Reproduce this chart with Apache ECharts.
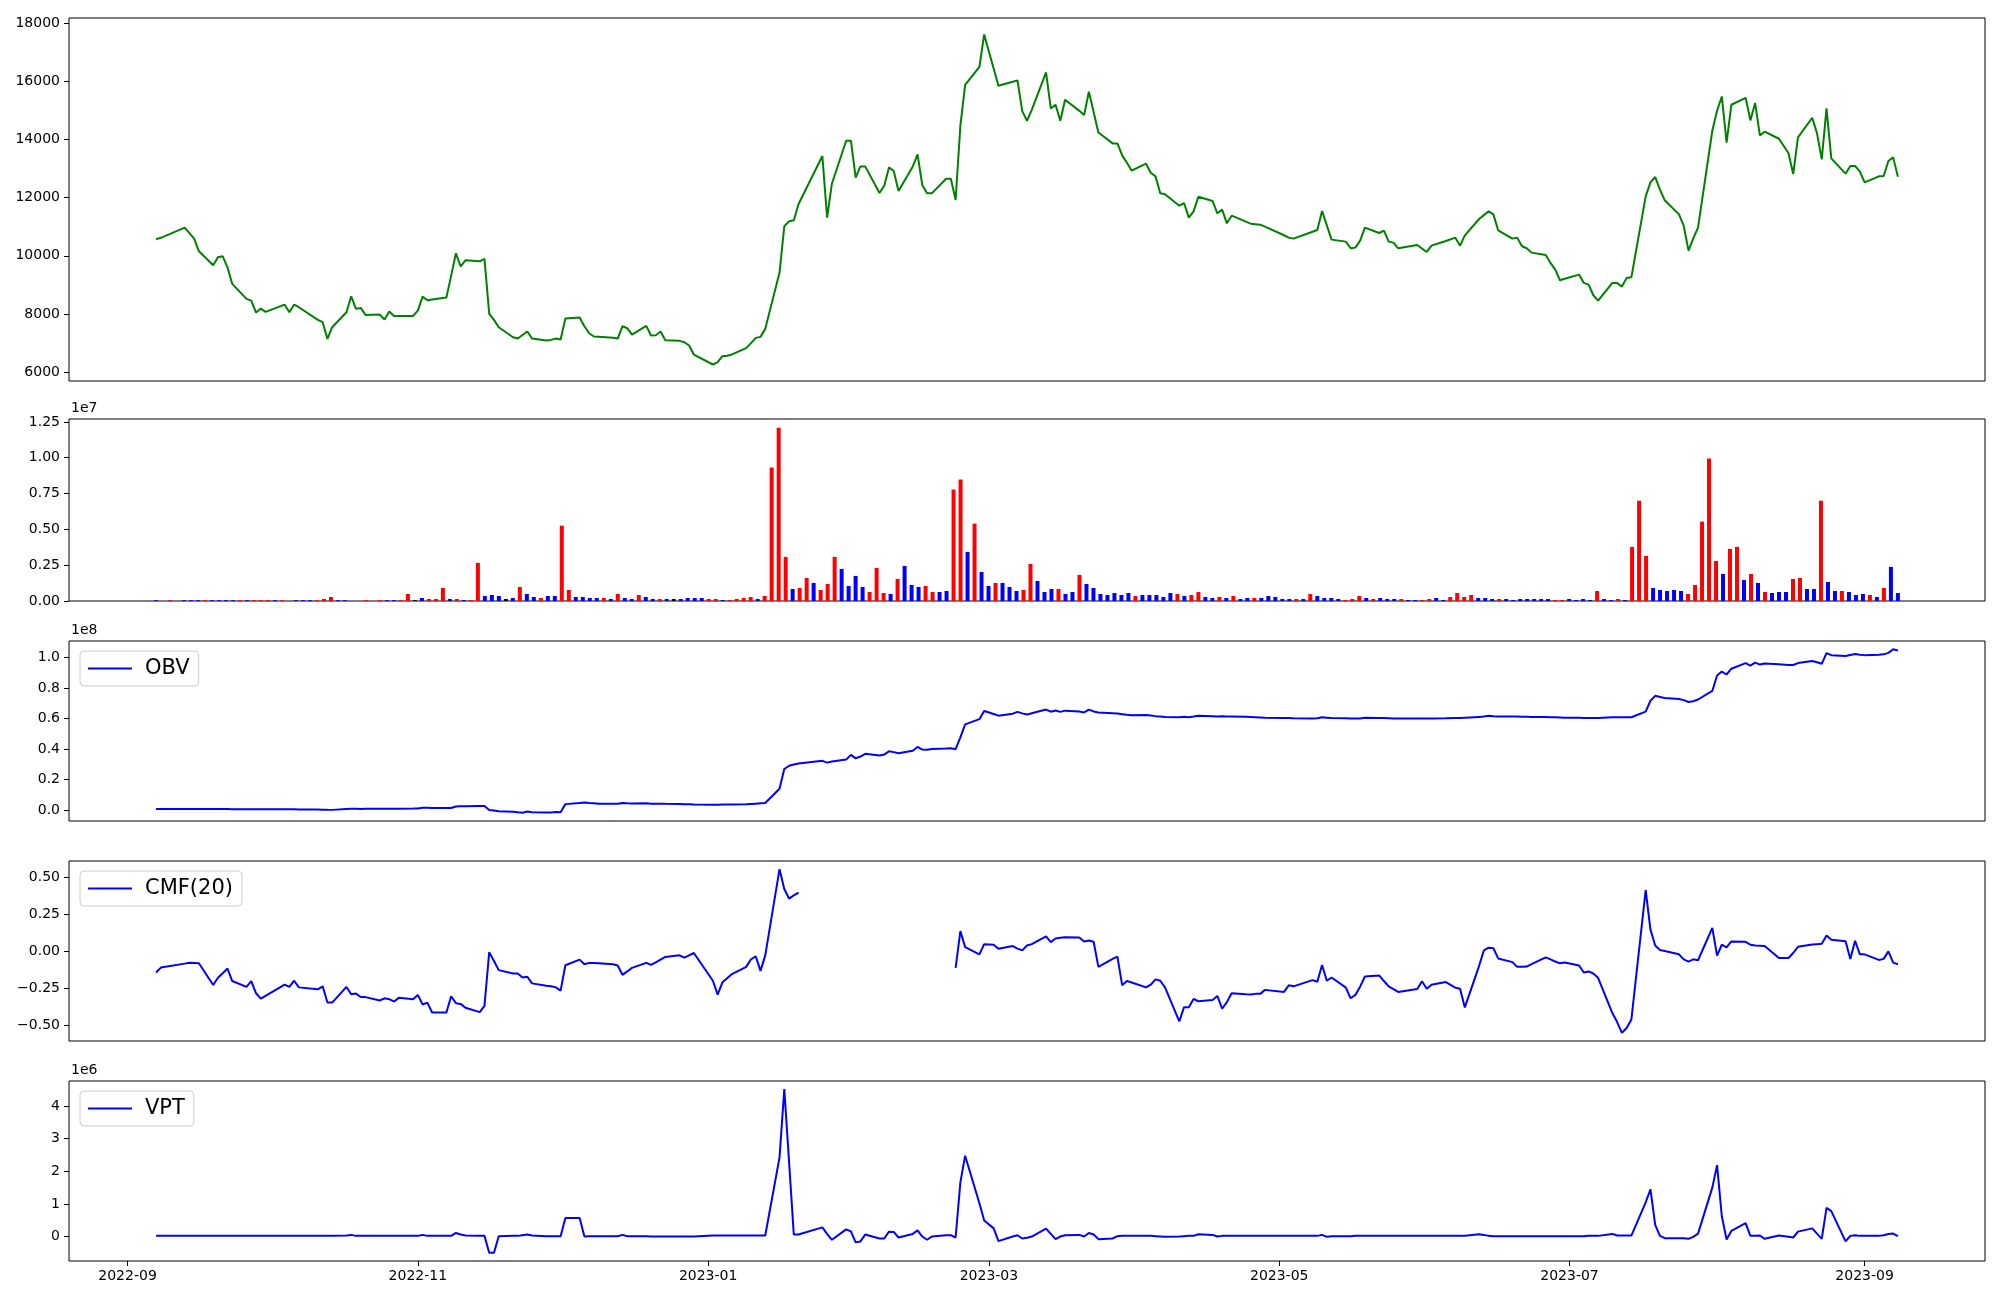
<!DOCTYPE html>
<html><head><meta charset="utf-8">
<script src="https://cdn.jsdelivr.net/npm/echarts@6/dist/echarts.min.js"></script>
<style>html,body{margin:0;padding:0;background:#fff}#c{width:2000px;height:1300px}</style>
</head><body><div id="c"></div>
<script>
const dates = [
'2022-09-07','2022-09-08','2022-09-13','2022-09-14','2022-09-15','2022-09-16','2022-09-19','2022-09-20','2022-09-21','2022-09-22','2022-09-23','2022-09-26','2022-09-27','2022-09-28','2022-09-29','2022-09-30',
'2022-10-04','2022-10-05','2022-10-06','2022-10-07','2022-10-11','2022-10-12','2022-10-13','2022-10-14','2022-10-17','2022-10-18','2022-10-19','2022-10-20','2022-10-21','2022-10-24','2022-10-25','2022-10-26','2022-10-27','2022-10-28','2022-10-31',
'2022-11-01','2022-11-02','2022-11-03','2022-11-04','2022-11-07','2022-11-08','2022-11-09','2022-11-10','2022-11-11','2022-11-14','2022-11-15','2022-11-16','2022-11-17','2022-11-18','2022-11-21','2022-11-22','2022-11-23','2022-11-24','2022-11-25','2022-11-28','2022-11-29','2022-11-30',
'2022-12-01','2022-12-02','2022-12-05','2022-12-06','2022-12-07','2022-12-08','2022-12-09','2022-12-12','2022-12-13','2022-12-14','2022-12-15','2022-12-16','2022-12-19','2022-12-20','2022-12-21','2022-12-22','2022-12-23','2022-12-26','2022-12-27','2022-12-28','2022-12-29',
'2023-01-02','2023-01-03','2023-01-04','2023-01-05','2023-01-06','2023-01-09','2023-01-10','2023-01-11','2023-01-12','2023-01-13','2023-01-16','2023-01-17','2023-01-18','2023-01-19','2023-01-20','2023-01-25','2023-01-26','2023-01-27','2023-01-30','2023-01-31',
'2023-02-01','2023-02-02','2023-02-03','2023-02-06','2023-02-07','2023-02-08','2023-02-09','2023-02-10','2023-02-13','2023-02-14','2023-02-15','2023-02-16','2023-02-17','2023-02-20','2023-02-21','2023-02-22','2023-02-23','2023-02-24','2023-02-27','2023-02-28',
'2023-03-02','2023-03-03','2023-03-06','2023-03-07','2023-03-08','2023-03-09','2023-03-10','2023-03-13','2023-03-14','2023-03-15','2023-03-16','2023-03-17','2023-03-20','2023-03-21','2023-03-22','2023-03-23','2023-03-24','2023-03-27','2023-03-28','2023-03-29','2023-03-30','2023-03-31',
'2023-04-03','2023-04-04','2023-04-05','2023-04-06','2023-04-07','2023-04-10','2023-04-11','2023-04-12','2023-04-13','2023-04-14','2023-04-17','2023-04-18','2023-04-19','2023-04-20','2023-04-21','2023-04-24','2023-04-25','2023-04-26','2023-04-27','2023-04-28',
'2023-05-02','2023-05-03','2023-05-04','2023-05-08','2023-05-09','2023-05-10','2023-05-11','2023-05-12','2023-05-15','2023-05-16','2023-05-17','2023-05-18','2023-05-19','2023-05-22','2023-05-23','2023-05-24','2023-05-25','2023-05-26','2023-05-30','2023-05-31',
'2023-06-01','2023-06-02','2023-06-05','2023-06-07','2023-06-08','2023-06-09','2023-06-12','2023-06-13','2023-06-14','2023-06-15','2023-06-16','2023-06-19','2023-06-20','2023-06-21','2023-06-22','2023-06-23','2023-06-26','2023-06-27','2023-06-28','2023-06-29','2023-06-30',
'2023-07-03','2023-07-04','2023-07-05','2023-07-06','2023-07-07','2023-07-10','2023-07-11','2023-07-12','2023-07-13','2023-07-14','2023-07-17','2023-07-18','2023-07-19','2023-07-20','2023-07-21','2023-07-24','2023-07-25','2023-07-26','2023-07-27','2023-07-28','2023-07-31',
'2023-08-01','2023-08-02','2023-08-03','2023-08-04','2023-08-07','2023-08-08','2023-08-09','2023-08-10','2023-08-11','2023-08-14','2023-08-16','2023-08-17','2023-08-18','2023-08-21','2023-08-22','2023-08-23','2023-08-24','2023-08-25','2023-08-28','2023-08-29','2023-08-30','2023-08-31',
'2023-09-01','2023-09-04','2023-09-05','2023-09-06','2023-09-07','2023-09-08'
];
const close = [
10570,10620,10970,10780,10590,10157,9676,9950,9985,9607,
9035,8519,8462,8050,8187,8073,8325,8061,8325,8233,
7800,7718,7145,7546,8061,8611,8176,8210,7970,7980,
7810,8084,7935,7935,7935,8118,8599,8473,8496,8565,
9320,10088,9641,9847,9813,9893,8004,7798,7546,7202,
7157,7277,7397,7157,7088,7110,7157,7122,7843,7878,
7580,7340,7225,7215,7180,7157,7580,7512,7294,7592,
7260,7271,7397,7100,7077,7031,6916,6607,6264,6344,
6550,6562,6610,6825,7000,7180,7214,7489,9424,11016,
11187,11222,11783,13431,11313,12481,13958,13958,12687,13076,
13076,12160,12412,13042,12916,12229,13076,13488,12435,12149,
12149,12653,12653,11920,14474,15882,16500,17611,16436,15848,
15985,16031,14977,14645,15020,16305,15069,15195,14645,15367,
14985,14840,15642,14943,14244,13867,13867,13454,13200,12927,
13168,12859,12733,12149,12115,11725,11817,11313,11531,12034,
11886,11462,11588,11119,11382,11175,11107,11090,11073,11006,
10708,10626,10592,10830,10890,11543,11050,10558,10489,10260,
10283,10523,10970,10786,10867,10489,10454,10260,10374,10250,
10134,10351,10510,10626,10351,10706,11267,11400,11531,11427,
10878,10592,10626,10329,10260,10111,10031,9756,9527,9160,
9210,9355,9069,9012,8645,8462,9069,9069,8943,9241,
9263,12046,12527,12710,12275,11909,11427,11027,10180,10603,
10970,14302,14989,15481,13889,15195,15435,14657,15252,14142,
14268,14027,13535,12813,14073,14749,14211,13317,15069,13352,
12825,13088,13088,12905,12527,12733,12744,13260,13386,12721
];
// volume in millions of shares
const volumeMillions = [
0.06,0,0.06,0,0.06,0.06,0.06,0.06,0.06,0.06,
0.06,0.06,0.06,0.06,0.06,0.06,0.06,0.06,0.06,0,
0.06,0.06,0.06,0.06,0.14,0.28,0.06,0.06,0,0,
0.06,0,0.06,0.06,0.06,0.06,0.49,0.06,0.21,0.14,
0.14,0.91,0.14,0.14,0.07,0.07,2.66,0.35,0.42,0.35,
0.14,0.21,0.98,0.49,0.28,0.21,0.35,0.35,5.26,0.77,
0.28,0.28,0.21,0.21,0.21,0.14,0.49,0.21,0.14,0.42,
0.28,0.14,0.14,0.14,0.14,0.14,0.21,0.21,0.21,0.14,
0.14,0.07,0.07,0.14,0.21,0.28,0.14,0.35,9.32,12.1,
3.08,0.84,0.91,1.61,1.26,0.77,1.19,3.08,2.24,1.05,
1.75,0.98,0.63,2.31,0.56,0.49,1.54,2.45,1.12,0.98,
1.05,0.63,0.63,0.70,7.78,8.48,3.43,5.40,2.03,1.05,
1.26,1.26,0.98,0.70,0.77,2.59,1.40,0.63,0.84,0.84,
0.49,0.63,1.82,1.19,0.91,0.49,0.42,0.56,0.42,0.56,
0.35,0.42,0.42,0.42,0.28,0.56,0.49,0.35,0.42,0.63,
0.28,0.21,0.28,0.21,0.35,0.14,0.21,0.21,0.21,0.35,
0.28,0.14,0.14,0.14,0.14,0.49,0.35,0.21,0.21,0.14,
0.07,0.14,0.35,0.21,0.14,0.21,0.14,0.14,0.14,0.07,
0.07,0.07,0.14,0.21,0.07,0.28,0.56,0.28,0.42,0.21,
0.21,0.14,0.14,0.14,0.07,0.14,0.14,0.14,0.14,0.14,
0.07,0.07,0.14,0.07,0.14,0.07,0.70,0.14,0.07,0.14,
0.07,3.78,7.00,3.15,0.91,0.77,0.70,0.77,0.70,0.49,
1.12,5.54,9.95,2.80,1.89,3.64,3.78,1.47,1.89,1.26,
0.63,0.56,0.63,0.63,1.54,1.61,0.84,0.84,7.00,1.33,
0.70,0.70,0.63,0.42,0.49,0.42,0.28,0.91,2.38,0.56
];
// bar colour code per day: r = red, b = blue, k = black
const volumeColorCodes = (
'bbrbbbbrbb'+'bbrbrrrbrb'+'bbbrrrbbbb'+'rbrbbrrkbr'+'rrbrbrrbbb'+
'kbrbbrbbrr'+'bbbbrbrbbr'+'bbrbkbbbbr'+'rbrrrrbrrr'+'rbrrbrrrbb'+
'bbrrrbrbbb'+'rrbbrrbrbb'+'rbbbrrbbbr'+'bbrbbbbbbb'+'rbbbbbrbrr'+
'bbrbrbbrbb'+'bbbrbrbbbb'+'rrrbrbbbrb'+'brrbbrrrrb'+'bbrbbbbbbb'+
'rrbbbbrbbr'+'brrrbbbbbr'+'rrrrbrrbrb'+'rbbbrrbbrb'+'brbbbrbrbb').split('');
// OBV in units of 1e8
const obvE8 = [
0.0065,0.0066,0.0064,0.0064,0.0062,0.0060,0.0058,0.0056,0.0055,0.0053,
0.0051,0.0050,0.0048,0.0047,0.0045,0.0043,0.0040,0.0038,0.0036,0.0034,
0.0020,0.0015,0.0008,0.0003,0.0055,0.0070,0.0070,0.0068,0.0070,0.0072,
0.0075,0.0077,0.0080,0.0083,0.0085,0.0087,0.0135,0.0135,0.0130,0.0128,
0.0131,0.0225,0.0235,0.0245,0.026,0.026,-0.0005,-0.004,-0.008,-0.012,
-0.016,-0.019,-0.010,-0.015,-0.017,-0.017,-0.013,-0.015,0.038,0.045,
0.048,0.045,0.043,0.041,0.041,0.040,0.045,0.043,0.042,0.043,
0.041,0.040,0.041,0.040,0.039,0.038,0.037,0.036,0.034,0.034,
0.035,0.035,0.036,0.037,0.039,0.041,0.043,0.045,0.139,0.268,
0.290,0.298,0.305,0.322,0.310,0.318,0.330,0.361,0.338,0.350,
0.368,0.357,0.363,0.385,0.379,0.372,0.388,0.413,0.396,0.395,
0.400,0.402,0.405,0.398,0.476,0.561,0.595,0.649,0.629,0.618,
0.631,0.643,0.633,0.626,0.634,0.658,0.644,0.652,0.643,0.651,
0.646,0.639,0.658,0.646,0.639,0.634,0.632,0.628,0.624,0.621,
0.623,0.619,0.615,0.612,0.609,0.608,0.611,0.608,0.612,0.617,
0.614,0.612,0.615,0.612,0.613,0.611,0.610,0.608,0.606,0.604,
0.603,0.602,0.601,0.600,0.601,0.608,0.605,0.602,0.601,0.600,
0.600,0.600,0.604,0.603,0.602,0.601,0.600,0.600,0.600,0.600,
0.600,0.600,0.601,0.602,0.602,0.604,0.610,0.612,0.617,0.614,
0.613,0.612,0.612,0.611,0.611,0.610,0.609,0.608,0.607,0.606,
0.605,0.604,0.603,0.603,0.602,0.602,0.608,0.607,0.607,0.608,
0.608,0.645,0.716,0.748,0.741,0.734,0.727,0.720,0.708,0.713,
0.724,0.780,0.881,0.907,0.888,0.926,0.963,0.946,0.966,0.953,
0.960,0.955,0.951,0.950,0.963,0.977,0.968,0.958,1.028,1.015,
1.009,1.016,1.022,1.018,1.015,1.018,1.020,1.030,1.054,1.045
];
const cmf20 = [
-0.142,-0.109,-0.082,-0.076,-0.077,-0.080,-0.227,-0.178,-0.147,-0.115,
-0.200,-0.240,-0.200,-0.283,-0.319,-0.300,-0.225,-0.240,-0.198,-0.243,
-0.256,-0.236,-0.346,-0.346,-0.240,-0.290,-0.285,-0.308,-0.309,-0.332,
-0.317,-0.323,-0.339,-0.314,-0.323,-0.294,-0.359,-0.346,-0.413,-0.413,
-0.303,-0.350,-0.355,-0.381,-0.411,-0.368,-0.004,-0.064,-0.126,-0.149,
-0.149,-0.176,-0.171,-0.216,-0.232,-0.236,-0.243,-0.265,-0.093,-0.055,
-0.086,-0.077,-0.078,-0.080,-0.086,-0.095,-0.158,-0.135,-0.111,-0.077,
-0.091,-0.073,-0.055,-0.037,-0.026,-0.042,-0.026,-0.010,-0.198,-0.292,
-0.209,-0.181,-0.153,-0.104,-0.053,-0.032,-0.131,-0.026,0.558,0.424,
0.359,0.380,0.399,null,null,null,null,null,null,null,
null,null,null,null,null,null,null,null,null,null,
null,null,null,-0.111,0.138,0.030,-0.019,0.050,0.046,0.019,
0.037,0.020,0.008,0.041,0.050,0.102,0.064,0.088,0.093,0.097,
0.095,0.068,0.075,0.066,-0.104,-0.050,-0.035,-0.229,-0.200,-0.210,
-0.243,-0.225,-0.189,-0.198,-0.243,-0.473,-0.377,-0.377,-0.321,-0.337,
-0.328,-0.301,-0.388,-0.343,-0.283,-0.290,-0.292,-0.287,-0.287,-0.260,
-0.274,-0.229,-0.236,-0.194,-0.205,-0.091,-0.198,-0.176,-0.245,-0.317,
-0.294,-0.238,-0.169,-0.162,-0.200,-0.236,-0.255,-0.274,-0.254,-0.202,
-0.252,-0.225,-0.207,-0.245,-0.252,-0.379,-0.097,0.008,0.026,0.023,
-0.047,-0.072,-0.104,-0.103,-0.102,-0.085,-0.040,-0.053,-0.068,-0.080,
-0.075,-0.095,-0.142,-0.135,-0.149,-0.178,-0.417,-0.478,-0.551,-0.518,
-0.460,0.417,0.149,0.041,0.010,0.003,-0.019,-0.053,-0.068,-0.053,
-0.059,0.160,-0.028,0.046,0.028,0.068,0.066,0.046,0.041,0.039,
0.037,-0.044,-0.044,-0.010,0.032,0.048,0.050,0.052,0.108,0.079,
0.070,-0.050,0.073,-0.019,-0.019,-0.057,-0.050,0.001,-0.075,-0.086
];
// VPT in units of 1e6
const vptE6 = [
0.02,0.02,0.02,0.02,0.02,0.02,0.02,0.02,0.02,0.02,
0.02,0.02,0.02,0.02,0.02,0.02,0.02,0.02,0.02,0.02,
0.02,0.02,0.02,0.02,0.03,0.05,0.02,0.02,0.02,0.02,
0.02,0.02,0.02,0.02,0.02,0.02,0.05,0.02,0.02,0.02,
0.02,0.11,0.06,0.03,0.02,0.02,-0.50,-0.50,0.01,0.02,
0.02,0.04,0.06,0.03,0.01,0.01,0.01,0.01,0.566,0.566,
0.00,0.01,0.01,0.01,0.01,0.01,0.05,0.01,0.01,0.01,
0.00,0.00,0.00,0.00,0.00,0.00,0.00,0.00,0.03,0.03,
0.03,0.03,0.03,0.03,0.03,0.03,0.03,0.03,2.43,4.52,
2.30,0.06,0.06,0.28,0.08,-0.10,0.22,0.16,-0.18,-0.15,
0.06,-0.06,-0.06,0.15,0.14,-0.03,0.08,0.19,0.00,-0.10,
0.00,0.04,0.04,-0.03,1.66,2.48,1.02,0.49,0.25,-0.14,
0.00,0.04,-0.06,-0.04,0.00,0.24,0.08,-0.08,0.00,0.04,
0.05,0.00,0.11,0.06,-0.08,-0.06,0.01,0.02,0.02,0.02,
0.02,0.02,0.01,0.00,-0.01,0.00,0.01,0.02,0.02,0.07,
0.05,0.00,0.02,0.02,0.02,0.02,0.02,0.02,0.02,0.02,
0.02,0.02,0.02,0.02,0.02,0.05,-0.01,0.01,0.01,0.01,
0.02,0.02,0.02,0.02,0.02,0.02,0.02,0.02,0.02,0.02,
0.02,0.02,0.02,0.02,0.02,0.02,0.07,0.05,0.02,0.01,
0.01,0.01,0.01,0.01,0.01,0.01,0.01,0.01,0.01,0.01,
0.01,0.01,0.01,0.02,0.02,0.02,0.08,0.03,0.03,0.03,
0.03,1.05,1.45,0.36,0.02,-0.05,-0.05,-0.05,-0.07,-0.01,
0.09,1.50,2.19,0.62,-0.09,0.17,0.41,0.02,0.02,0.03,
-0.07,0.03,-0.01,-0.03,0.15,0.25,0.09,-0.07,0.88,0.78,
-0.15,0.02,0.04,0.02,0.02,0.02,0.04,0.08,0.09,0.01
];
const monthTicks = ['2022-09-01','2022-11-01','2023-01-01','2023-03-01','2023-05-01','2023-07-01','2023-09-01'];
const priceTicks = [6000,8000,10000,12000,14000,16000,18000];
const volumeTicks = [0,0.25e7,0.5e7,0.75e7,1.0e7,1.25e7];
const obvTicks = [0,0.2e8,0.4e8,0.6e8,0.8e8,1.0e8];
const cmfTicks = [-0.5,-0.25,0,0.25,0.5];
const vptTicks = [0,1e6,2e6,3e6,4e6];

function ts(s){const p=s.split('-');return new Date(+p[0],+p[1]-1,+p[2]).getTime();}
const X = dates.map(ts);
const FONT = 'DejaVu Sans';
const COL = {r:'#ff0000', b:'#0000ff', k:'#000000'};
const minus = s => String(s).replace('-', '\u2212');

const gridDefs = [{top:18,height:363},{top:419,height:182},{top:641,height:180},{top:861,height:180},{top:1081,height:180}];
const grids = gridDefs.map(g => Object.assign({left:69,right:15,show:true,borderColor:'#000',borderWidth:1,
  backgroundColor:'transparent',containLabel:false,outerBoundsMode:'none'}, g));

const padMin = v => v.min - 0.05*(v.max - v.min);
const padMax = v => v.max + 0.05*(v.max - v.min);
const labelStyle = {color:'#000', fontSize:14, fontFamily:FONT};

function xTime(i, show){
  const tv = monthTicks.map(ts);
  return {type:'value', gridIndex:i, min:padMin, max:padMax, scale:true,
    splitLine:{show:false}, axisLine:{show:false, onZero:false},
    axisTick:{show:show, customValues:tv, length:5, lineStyle:{color:'#000', width:1}},
    axisLabel:Object.assign({show:show, customValues:tv, margin:8,
      formatter: v => { const d=new Date(v); return d.getFullYear()+'-'+String(d.getMonth()+1).padStart(2,'0'); }}, labelStyle)};
}
function yAx(i, ticks, fmt, extra){
  return Object.assign({type:'value', gridIndex:i, scale:true, splitLine:{show:false}, axisLine:{show:false, onZero:false},
    axisTick:{show:true, customValues:ticks, length:5, lineStyle:{color:'#000', width:1}},
    axisLabel:Object.assign({customValues:ticks, formatter:fmt, margin:9}, labelStyle),
    nameLocation:'end', nameGap:4,
    nameTextStyle:{color:'#000', fontSize:14, fontFamily:FONT, align:'left', verticalAlign:'bottom', padding:[0,0,0,2]}}, extra);
}

function legendAt(name, top){
  return {data:[name], left:80, top:top, orient:'horizontal', selectedMode:false,
    backgroundColor:'rgba(255,255,255,0.8)', borderColor:'#cccccc', borderWidth:1, borderRadius:4,
    padding:[7,9,7,7], itemWidth:44, itemHeight:22, itemGap:0,
    itemStyle:{opacity:0},
    textStyle:{color:'#000', fontSize:21, fontFamily:FONT, padding:[0,0,0,8]}};
}

const lineBase = {type:'line', symbol:'none', showSymbol:false, animation:false, silent:true,
  emphasis:{disabled:true}};

const option = {
  animation:false,
  backgroundColor:'#ffffff',
  grid: grids,
  xAxis: [
    xTime(0,false),
    {type:'value', gridIndex:1, min:padMin, max:padMax, scale:true, splitLine:{show:false}, axisLine:{show:false, onZero:false}, axisTick:{show:false}, axisLabel:{show:false}},
    xTime(2,false), xTime(3,false), xTime(4,true)
  ],
  yAxis: [
    yAx(0, priceTicks, v => String(v), {min:padMin, max:padMax}),
    yAx(1, volumeTicks, v => (v/1e7).toFixed(2), {min:0, max: v => v.max*1.05, name:'1e7'}),
    yAx(2, obvTicks, v => (v/1e8).toFixed(1), {min:padMin, max:padMax, name:'1e8'}),
    yAx(3, cmfTicks, v => minus(v.toFixed(2)), {min:padMin, max:padMax}),
    yAx(4, vptTicks, v => String(Math.round(v/1e6)), {min:padMin, max:padMax, name:'1e6'})
  ],
  legend: [legendAt('OBV', 651), legendAt('CMF(20)', 871), legendAt('VPT', 1091)],
  series: [
    Object.assign({}, lineBase, {name:'Close', xAxisIndex:0, yAxisIndex:0, lineStyle:{color:'#008000', width:2}, itemStyle:{color:'#008000'},
      data: X.map((t,i)=>[t, close[i]])}),
    {type:'bar', name:'Volume', xAxisIndex:1, yAxisIndex:1, barWidth:4, animation:false, silent:true,
      data: volumeMillions.map((v,i)=>({value:[i, v*1e6], itemStyle:{color: COL[volumeColorCodes[i]]}}))},
    Object.assign({}, lineBase, {name:'OBV', xAxisIndex:2, yAxisIndex:2, lineStyle:{color:'#0000ff', width:2}, itemStyle:{color:'#0000ff'},
      data: X.map((t,i)=>[t, obvE8[i]*1e8])}),
    Object.assign({}, lineBase, {name:'CMF(20)', xAxisIndex:3, yAxisIndex:3, connectNulls:false, lineStyle:{color:'#0000ff', width:2}, itemStyle:{color:'#0000ff'},
      data: X.map((t,i)=>[t, cmf20[i]===null ? '-' : cmf20[i]])}),
    Object.assign({}, lineBase, {name:'VPT', xAxisIndex:4, yAxisIndex:4, lineStyle:{color:'#0000ff', width:2}, itemStyle:{color:'#0000ff'},
      data: X.map((t,i)=>[t, vptE6[i]*1e6])})
  ]
};
const chart = echarts.init(document.getElementById('c'), null, {renderer:'canvas'});
chart.setOption(option);
</script>
</body></html>
